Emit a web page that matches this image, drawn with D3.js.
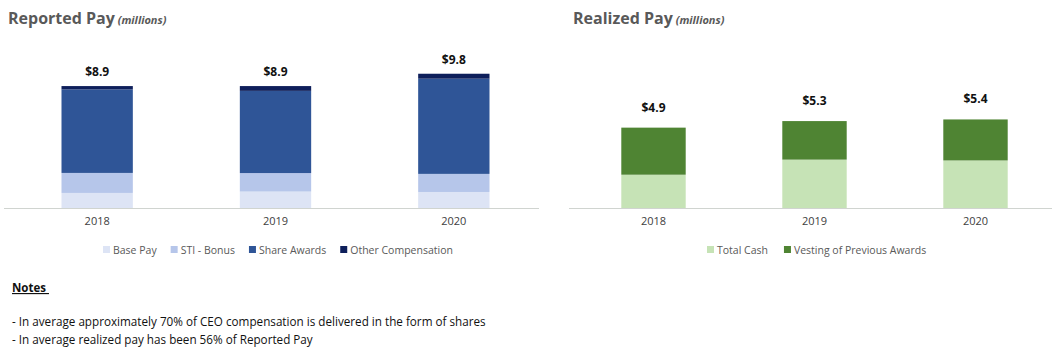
<!DOCTYPE html>
<html><head><meta charset="utf-8">
<script src="https://cdn.jsdelivr.net/npm/d3@7"></script>
<style>body{margin:0;background:#fff}svg{display:block}</style>
</head><body><svg id="c" width="1060" height="357"></svg>
<script>
const years = ["2018","2019","2020"];
const basePay = [1.10, 1.20, 1.17];
const stiBonus = [1.46, 1.35, 1.32];
const shareAwards = [6.10, 6.00, 6.95];
const otherComp = [0.24, 0.35, 0.36];
const reportedTotals = ["$8.9","$8.9","$9.8"];
const totalCash = [2.03, 2.95, 2.90];
const vesting = [2.87, 2.35, 2.50];
const realizedTotals = ["$4.9","$5.3","$5.4"];
const leftSeries = ["Base Pay","STI - Bonus","Share Awards","Other Compensation"];
const rightSeries = ["Total Cash","Vesting of Previous Awards"];
const notes = ["- In average approximately 70% of CEO compensation is delivered in the form of shares","- In average realized pay has been 56% of Reported Pay"];

const svg = d3.select("#c");
const font = "'Open Sans', sans-serif";
const baseY = 208;

function chart(opts){
  const {title, x0, x1, series, data, colors, totals, yMax, yPx, labelOff, legendX} = opts;
  const g = svg.append("g");
  const t = g.append("text").attr("x", x0).attr("y", 24).attr("font-family", font)
    .attr("fill","#595959").attr("font-weight","bold");
  t.append("tspan").attr("font-size",16).text(title);
  t.append("tspan").attr("font-size",11).attr("font-style","italic").text(" (millions)");
  const x = d3.scaleBand().domain(years).range([x0, x1]).paddingInner(0.6).paddingOuter(0.3);
  const y = d3.scaleLinear().domain([0, yMax]).range([baseY, baseY - yPx]);
  const rows = years.map((yr,i)=>{const o={year:yr}; series.forEach((s,j)=>o[s]=data[j][i]); return o;});
  const stack = d3.stack().keys(series)(rows);
  g.selectAll("g.s").data(stack).join("g").attr("fill",(d,i)=>colors[i])
    .selectAll("rect").data(d=>d).join("rect")
    .attr("x", d=>x(d.data.year)).attr("width", x.bandwidth())
    .attr("y", d=>y(d[1])).attr("height", d=>y(d[0])-y(d[1]));
  const axis = g.append("g").attr("transform",`translate(0,${baseY})`)
    .call(d3.axisBottom(x).tickSize(0).tickPadding(9).tickSizeOuter(0));
  axis.select(".domain").attr("stroke","#d0d4d0").attr("d",`M${x0-4},0.5H${x1-4}`);
  axis.selectAll("text").attr("font-family",font).attr("font-size",11).attr("fill","#404040");
  const top = stack[stack.length-1];
  g.selectAll("text.tot").data(top).join("text").attr("class","tot")
    .attr("x", d=>x(d.data.year)+x.bandwidth()/2).attr("y", d=>y(d[1])-labelOff)
    .attr("text-anchor","middle").attr("font-family",font).attr("font-size",12)
    .attr("font-weight","bold").attr("fill","#111").text((d,i)=>totals[i]);
  const lg = g.append("g");
  let lx = legendX;
  series.forEach((s,i)=>{
    lg.append("rect").attr("x",lx).attr("y",246).attr("width",7).attr("height",7).attr("fill",colors[i]);
    const tx = lg.append("text").attr("x",lx+10).attr("y",253.5).attr("font-family",font)
      .attr("font-size",10.5).attr("fill","#595959").text(s);
    lx += 10 + tx.node().getComputedTextLength() + opts.legendGap;
  });
}

chart({title:"Reported Pay", x0:8, x1:543, series:leftSeries,
  data:[basePay,stiBonus,shareAwards,otherComp],
  colors:["#dde4f5","#b6c6ea","#2f5597","#0e1f5b"], totals:reportedTotals,
  yMax:10, yPx:137, labelOff:10, legendX:103, legendGap:14});
chart({title:"Realized Pay", x0:573, x1:1056, series:rightSeries,
  data:[totalCash,vesting], colors:["#c6e3b6","#4f8433"], totals:realizedTotals,
  yMax:6, yPx:98.4, labelOff:16, legendX:707, legendGap:16});

const ng = svg.append("g").attr("font-family",font).attr("fill","#111");
ng.append("text").attr("x",12).attr("y",292).attr("font-size",11.5).attr("font-weight","bold")
  .attr("text-decoration","underline").text("Notes\u00a0");
ng.selectAll("text.n").data(notes).join("text").attr("class","n").attr("x",12)
  .attr("y",(d,i)=>326+i*18).attr("font-size",11.7).text(d=>d);
</script></body></html>
